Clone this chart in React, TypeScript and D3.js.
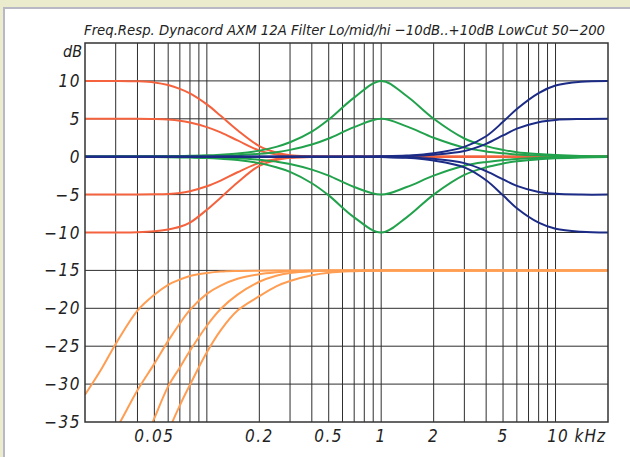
import * as d3 from "d3";

const freqs = [0.02, 0.025, 0.03, 0.04, 0.05, 0.06, 0.07, 0.08, 0.1, 0.12, 0.15, 0.2, 0.25, 0.3, 0.4, 0.5, 0.7, 1, 1.4, 2, 3, 4, 5, 6, 8, 10, 14, 20];

// lo shelf (dB)
const lo10 = [10, 10, 10, 9.95, 9.8, 9.45, 8.95, 8.35, 6.9, 5.4, 3.5, 1.4, 0.55, 0.2, 0.05, 0, 0, 0, 0, 0, 0, 0, 0, 0, 0, 0, 0, 0];
const lo5 = [5, 5, 5, 5, 4.97, 4.9, 4.75, 4.5, 3.9, 3.2, 2.15, 0.8, 0.3, 0.1, 0.02, 0, 0, 0, 0, 0, 0, 0, 0, 0, 0, 0, 0, 0];
const loM5 = [-5, -5, -5, -5, -4.97, -4.92, -4.8, -4.55, -3.9, -3.15, -2.05, -0.8, -0.3, -0.1, -0.02, 0, 0, 0, 0, 0, 0, 0, 0, 0, 0, 0, 0, 0];
const loM10 = [-10, -10, -10, -9.97, -9.85, -9.6, -9.25, -8.7, -7.0, -5.4, -3.4, -1.2, -0.45, -0.15, -0.05, 0, 0, 0, 0, 0, 0, 0, 0, 0, 0, 0, 0, 0];

// mid peak (dB)
const mid10 = [0, 0, 0.02, 0.03, 0.05, 0.07, 0.09, 0.12, 0.18, 0.27, 0.42, 0.8, 1.3, 1.9, 3.3, 4.9, 7.8, 10, 8.0, 5.0, 2.4, 1.4, 0.9, 0.6, 0.35, 0.22, 0.1, 0.05];
const mid5 = [0, 0, 0.01, 0.02, 0.03, 0.03, 0.04, 0.05, 0.08, 0.12, 0.2, 0.38, 0.6, 0.9, 1.6, 2.4, 3.9, 5, 4.0, 2.5, 1.2, 0.7, 0.45, 0.3, 0.17, 0.1, 0.05, 0.02];
const midM5 = [0, 0, -0.01, -0.02, -0.03, -0.03, -0.04, -0.05, -0.08, -0.12, -0.2, -0.4, -0.65, -0.95, -1.7, -2.5, -4.0, -5, -4.0, -2.5, -1.2, -0.7, -0.45, -0.3, -0.17, -0.1, -0.05, -0.02];
const midM10 = [0, 0, -0.02, -0.03, -0.05, -0.07, -0.09, -0.12, -0.18, -0.28, -0.45, -0.85, -1.4, -2.0, -3.5, -5.1, -8.0, -10, -8.0, -5.0, -2.4, -1.4, -0.9, -0.6, -0.35, -0.22, -0.1, -0.05];

// hi shelf (dB)
const hi10 = [0, 0, 0, 0, 0, 0, 0, 0, 0, 0, 0, 0, 0, 0, 0, 0, 0.01, 0.05, 0.15, 0.45, 1.3, 2.7, 4.6, 6.3, 8.4, 9.4, 9.9, 10];
const hi5 = [0, 0, 0, 0, 0, 0, 0, 0, 0, 0, 0, 0, 0, 0, 0, 0, 0, 0.02, 0.08, 0.25, 0.75, 1.7, 2.8, 3.7, 4.55, 4.85, 4.97, 5];
const hiM5 = [0, 0, 0, 0, 0, 0, 0, 0, 0, 0, 0, 0, 0, 0, 0, 0, 0, -0.02, -0.08, -0.28, -0.85, -1.9, -3.0, -3.85, -4.65, -4.9, -5, -5];
const hiM10 = [0, 0, 0, 0, 0, 0, 0, 0, 0, 0, 0, 0, 0, 0, 0, 0, -0.01, -0.05, -0.15, -0.5, -1.4, -3.1, -5.1, -6.8, -8.7, -9.5, -9.9, -10];

// low cut 50 / 100 / 150 / 200 Hz (dB)
const lc50 = [-31.4, -27.9, -24.7, -20.3, -18.2, -16.9, -16.2, -15.75, -15.35, -15.15, -15.07, -15.03, -15.01, -15, -15, -15, -15, -15, -15, -15, -15, -15, -15, -15, -15, -15, -15, -15];
const lc100 = [-42, -38.5, -36.0, -30.8, -27.3, -24.3, -22.0, -20.2, -18.1, -17.0, -16.1, -15.5, -15.25, -15.12, -15.04, -15.01, -15, -15, -15, -15, -15, -15, -15, -15, -15, -15, -15, -15];
const lc150 = [-54, -50, -46.5, -40, -34.5, -30.3, -27.8, -25.6, -22.3, -20.1, -18.2, -16.5, -15.7, -15.35, -15.1, -15.04, -15.01, -15, -15, -15, -15, -15, -15, -15, -15, -15, -15, -15];
const lc200 = [-62, -58, -54, -47, -41, -36.3, -32.8, -30.1, -25.8, -22.9, -20.3, -18.4, -17.1, -16.4, -15.65, -15.3, -15.1, -15, -15, -15, -15, -15, -15, -15, -15, -15, -15, -15];

const yTicks = [10, 5, 0, -5, -10, -15, -20, -25, -30, -35];
const xLabels = [0.05, 0.2, 0.5, 1, 2, 5];
const title = "Freq.Resp. Dynacord AXM 12A Filter Lo/mid/hi \u221210dB..+10dB LowCut 50\u2212200";

const groups = [
  { color: "#f4623e", curves: [lo10, lo5, loM5, loM10] },
  { color: "#22a24c", curves: [mid10, mid5, midM5, midM10] },
  { color: "#1c2c86", curves: [hi10, hi5, hiM5, hiM10] },
];
const lowCuts = [lc50, lc100, lc150, lc200];

const font = "'DejaVu Sans Condensed', 'DejaVu Sans', sans-serif";

export default function App() {
  const x = d3.scaleLog().domain([0.02, 20]).range([85, 608]);
  const y = d3.scaleLinear().domain([-35, 15]).range([422, 43]);

  const line = d3
    .line<number>()
    .x((_, i) => x(freqs[i]))
    .y((d) => y(d))
    .curve(d3.curveCatmullRom.alpha(0.5));

  const vGrid = x.ticks().filter((t) => t > 0.0201 && t < 19.9);
  const hGrid = yTicks.filter((t) => t > -35);

  return (
    <div>
      <style>{"body{margin:0}"}</style>
      <svg width={630} height={457} style={{ display: "block" }}>
        <rect width={630} height={457} fill="#ebebcd" />
        <rect x={4} y={8} width={640} height={460} fill="#ffffff" stroke="#b9b9c6" strokeWidth={2} />
        <defs>
          <clipPath id="plot">
            <rect x={85} y={43} width={523} height={379} />
          </clipPath>
        </defs>

        {vGrid.map((t) => (
          <line key={"v" + t} x1={x(t)} x2={x(t)} y1={43} y2={422} stroke="#2e2e2e" strokeWidth={1} />
        ))}
        {hGrid.map((t) => (
          <line key={"h" + t} x1={85} x2={608} y1={y(t)} y2={y(t)} stroke="#2e2e2e" strokeWidth={1} />
        ))}

        <g clipPath="url(#plot)" fill="none" strokeWidth={2}>
          {lowCuts.map((c, i) => (
            <path key={"lc" + i} d={line(c) || ""} stroke="#ff9d52" />
          ))}
          {groups.map((g, gi) =>
            g.curves.map((c, i) => <path key={gi + "-" + i} d={line(c) || ""} stroke={g.color} />)
          )}
        </g>

        <rect x={85} y={43} width={523} height={379} fill="none" stroke="#333" strokeWidth={1.5} />

        <g fontFamily={font} fontStyle="italic" fill="#222" style={{ fontStretch: "condensed" }}>
          <text x={84} y={35} fontSize={14.5} textLength={521} lengthAdjust="spacingAndGlyphs">
            {title}
          </text>
          <text x={82} y={57} fontSize={16} textAnchor="end">dB</text>
          {yTicks.map((t) => (
            <text key={"yl" + t} x={81} y={y(t) + 6} fontSize={17} textAnchor="end" letterSpacing={1.5}>
              {t < 0 ? "\u2212" + Math.abs(t) : String(t)}
            </text>
          ))}
          {xLabels.map((t) => (
            <text key={"xl" + t} x={x(t)} y={442} fontSize={17} textAnchor="middle" letterSpacing={1.5}>
              {String(t)}
            </text>
          ))}
          <text x={606} y={442} fontSize={17} textAnchor="end" letterSpacing={1}>
            10 kHz
          </text>
        </g>
      </svg>
    </div>
  );
}
